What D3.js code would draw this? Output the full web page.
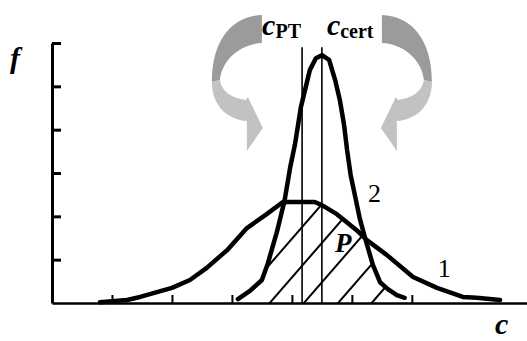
<!DOCTYPE html>
<html>
<head>
<meta charset="utf-8">
<script src="https://cdn.jsdelivr.net/npm/d3@7"></script>
<style>
  html, body { margin: 0; padding: 0; background: #fff; }
  svg { display: block; }
  text { font-family: "Liberation Serif", "Times New Roman", serif; fill: #000; }
</style>
</head>
<body>
<svg id="chart" width="527" height="341"></svg>
<script>
// ---------- data ----------
const xTicks = [1, 2, 3, 4, 5, 6];
const yTicks = [1, 2, 3, 4, 5, 6];

// curve 1 (wide distribution)
const curve1X = [0.80, 1.25, 1.47, 2.00, 2.30, 2.58, 2.92, 3.25, 3.58, 3.85, 4.38, 4.50, 4.75, 5.08, 5.25, 5.58, 6.02, 6.42, 6.85, 7.08, 7.47];
const curve1Y = [0.02, 0.07, 0.14, 0.35, 0.53, 0.81, 1.22, 1.73, 2.05, 2.33, 2.33, 2.26, 2.05, 1.68, 1.45, 1.11, 0.60, 0.35, 0.14, 0.12, 0.07];

// curve 2 (narrow distribution)
const curve2X = [3.10, 3.30, 3.50, 3.60, 3.75, 3.88, 3.97, 4.05, 4.15, 4.30, 4.40, 4.50, 4.62, 4.72, 4.80, 4.87, 4.92, 4.98, 5.05, 5.13, 5.22, 5.35, 5.47, 5.60, 5.75, 5.88];
const curve2Y = [0.09, 0.28, 0.53, 0.92, 1.64, 2.38, 3.12, 3.65, 4.52, 5.38, 5.65, 5.72, 5.61, 5.15, 4.68, 4.11, 3.53, 2.95, 2.49, 1.96, 1.50, 0.88, 0.48, 0.32, 0.18, 0.12];

const cPT = 4.17;
const cCert = 4.5;
const refLineTop = 5.9;
const hatchStart = 3.57;
const hatchIntercepts = [3.07, 3.63, 4.2, 4.77, 5.33];
const hatchSlope = 1.593;   // data-units rise per data-unit run

const curveLabels = [{ t: "2", x: 5.27, y: 2.33 }, { t: "1", x: 6.43, y: 0.60 }];

// ---------- scales ----------
const svg = d3.select("#chart");
const x = d3.scaleLinear().domain([0, 7.92]).range([52, 527]);
const y = d3.scaleLinear().domain([0, 6]).range([303, 43]);

const c1 = curve1X.map((v, i) => [v, curve1Y[i]]);
const c2 = curve2X.map((v, i) => [v, curve2Y[i]]);

// ---------- arrows (decoration, mirrored about c_cert) ----------
const darkPart = "M-60,15 C-90,16 -110,40 -110,82 L-102,80 C-100,60 -82,44 -60,43 Z";
const lightPart = "M-110,82 C-110,106 -94,120 -75,121 L-75,151 L-59,128 L-74,97 L-76,100 C-90,98 -100,92 -102,80 Z";
[1, -1].forEach(s => {
  const g = svg.append("g").attr("transform", `translate(${x(cCert)},0) scale(${s},1)`);
  g.append("path").attr("d", darkPart).attr("fill", "#9b9b9b");
  g.append("path").attr("d", lightPart).attr("fill", "#c2c2c2");
});

// ---------- hatching (clip: x >= hatchStart, under curve1 and under curve2) ----------
const defs = svg.append("defs");
const areaGen = d3.area().x(d => x(d[0])).y0(y(0)).y1(d => y(d[1]));
defs.append("clipPath").attr("id", "clipStart")
  .append("rect").attr("x", x(hatchStart)).attr("y", 0).attr("width", 527).attr("height", y(0));
defs.append("clipPath").attr("id", "clipC1").append("path").attr("d", areaGen(c1));
defs.append("clipPath").attr("id", "clipC2").append("path").attr("d", areaGen(c2));

const hg = svg.append("g").attr("clip-path", "url(#clipStart)")
  .append("g").attr("clip-path", "url(#clipC1)")
  .append("g").attr("clip-path", "url(#clipC2)");
hg.selectAll("line").data(hatchIntercepts).join("line")
  .attr("x1", d => x(d - 0.3)).attr("y1", y(-0.3 * hatchSlope))
  .attr("x2", d => x(d + 3)).attr("y2", y(3 * hatchSlope))
  .attr("stroke", "#000").attr("stroke-width", 2);

// ---------- axes ----------
const yAxis = d3.axisLeft(y).tickValues(yTicks).tickSizeInner(-9).tickSizeOuter(0).tickFormat("");
const gy = svg.append("g").attr("transform", `translate(${x(0)},0)`).call(yAxis);
gy.selectAll("path, line").attr("stroke", "#000").attr("stroke-width", 3);

const xAxis = d3.axisBottom(x).tickValues(xTicks).tickSizeInner(-8).tickSizeOuter(0).tickFormat("");
const gx = svg.append("g").attr("transform", `translate(0,${y(0)})`).call(xAxis);
gx.select("path").attr("stroke", "#000").attr("stroke-width", 2.5);
gx.selectAll("line").attr("stroke", "#000").attr("stroke-width", 2);

// ---------- reference lines ----------
[cPT, cCert].forEach(c => {
  svg.append("line")
    .attr("x1", x(c)).attr("x2", x(c))
    .attr("y1", y(0)).attr("y2", y(refLineTop))
    .attr("stroke", "#000").attr("stroke-width", 1.6);
});

// ---------- curves ----------
const lineGen = d3.line().x(d => x(d[0])).y(d => y(d[1]));
[c1, c2].forEach(c => {
  svg.append("path").attr("d", lineGen(c))
    .attr("fill", "none").attr("stroke", "#000")
    .attr("stroke-width", 4.5).attr("stroke-linejoin", "round").attr("stroke-linecap", "round");
});

// ---------- text ----------
svg.append("text").attr("x", 10).attr("y", 68)
  .attr("font-size", 30).attr("font-style", "italic").attr("font-weight", "bold").text("f");

function cLabel(xp, sub) {
  const t = svg.append("text").attr("x", xp).attr("y", 35);
  t.append("tspan").attr("font-size", 30).attr("font-style", "italic").attr("font-weight", "bold").text("c");
  t.append("tspan").attr("font-size", 20).attr("font-weight", "bold").attr("dy", 3).text(sub);
}
cLabel(x(cPT) - 40, "PT");
cLabel(x(cCert) + 5, "cert");

svg.append("text").attr("x", 495).attr("y", 334)
  .attr("font-size", 30).attr("font-style", "italic").attr("font-weight", "bold").text("c");

svg.append("text").attr("x", 335).attr("y", 252)
  .attr("font-size", 27).attr("font-style", "italic").attr("font-weight", "bold").text("P");

curveLabels.forEach(l => {
  svg.append("text").attr("x", x(l.x)).attr("y", y(l.y))
    .attr("font-size", 26).text(l.t);
});
</script>
</body>
</html>
